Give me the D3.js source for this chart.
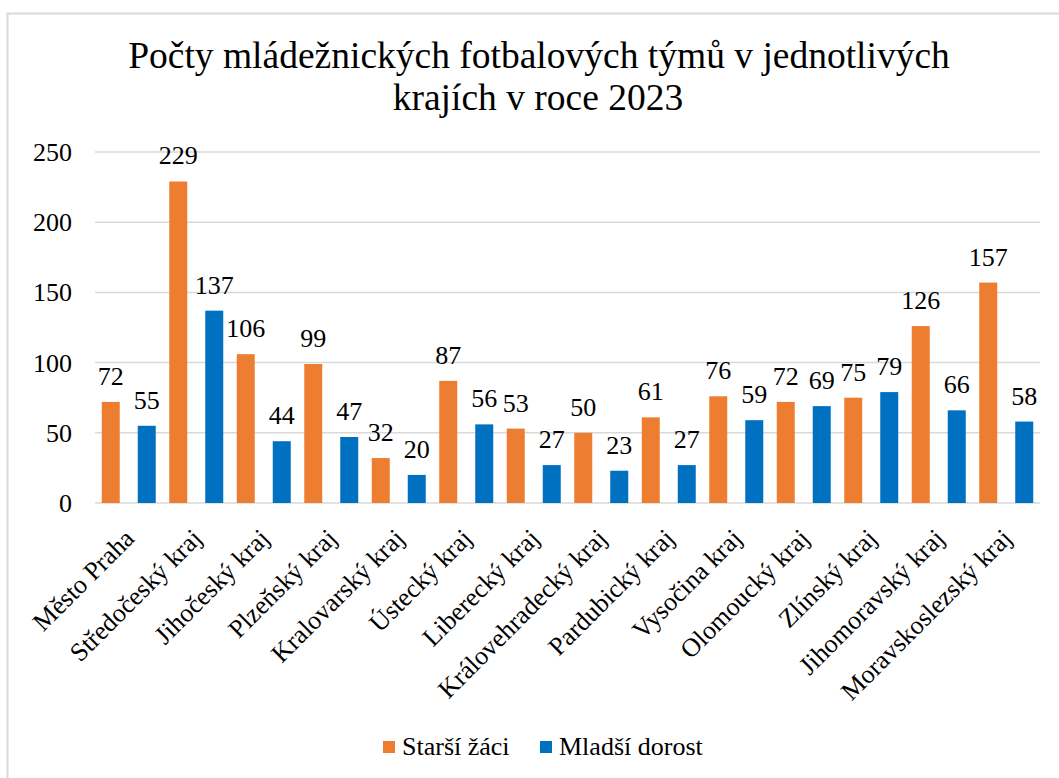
<!DOCTYPE html>
<html>
<head>
<meta charset="utf-8">
<script src="https://cdn.jsdelivr.net/npm/d3@7"></script>
<style>
  body { margin: 0; background: #fff; }
</style>
</head>
<body>
<svg id="chart" width="1059" height="778"></svg>
<script>
// data
const categories = ["Město Praha", "Středočeský kraj", "Jihočeský kraj", "Plzeňský kraj",
  "Kralovarský kraj", "Ústecký kraj", "Liberecký kraj", "Královehradecký kraj",
  "Pardubický kraj", "Vysočina kraj", "Olomoucký kraj", "Zlínský kraj",
  "Jihomoravský kraj", "Moravskoslezský kraj"];
const starsiZaci = [72, 229, 106, 99, 32, 87, 53, 50, 61, 76, 72, 75, 126, 157];
const mladsiDorost = [55, 137, 44, 47, 20, 56, 27, 23, 27, 59, 69, 79, 66, 58];
const seriesNames = ["Starší žáci", "Mladší dorost"];
const seriesColors = ["#ED7D31", "#0070C0"];
const yTicks = [0, 50, 100, 150, 200, 250];

const FONT = "Liberation Serif, Times New Roman, serif";
const svg = d3.select('#chart');

// chart area border
svg.append('rect')
  .attr('x', 7.5).attr('y', 13.5)
  .attr('width', 1100).attr('height', 800)
  .attr('fill', 'none')
  .attr('stroke', '#d9d9d9')
  .attr('stroke-width', 2);

// title
const title = svg.append('text')
  .attr('text-anchor', 'middle')
  .attr('font-size', 37.5)
  .attr('fill', '#000')
  .style('font-family', FONT);
title.append('tspan').attr('x', 539).attr('y', 68)
  .text('Počty mládežnických fotbalových týmů v jednotlivých');
title.append('tspan').attr('x', 538).attr('y', 110)
  .text('krajích v roce 2023');

const x = d3.scaleBand()
  .domain(categories)
  .range([95, 1040]);

const xSub = d3.scaleBand()
  .domain([0, 1])
  .range([0, x.bandwidth()])
  .paddingInner(0.5)
  .paddingOuter(0.1875);

const y = d3.scaleLinear()
  .domain([0, 250])
  .range([503, 152]);

// gridlines
svg.append('g')
  .selectAll('line')
  .data(yTicks)
  .enter()
  .append('line')
  .attr('x1', 95).attr('x2', 1040)
  .attr('y1', (d) => y(d)).attr('y2', (d) => y(d))
  .attr('stroke', '#d9d9d9')
  .attr('stroke-width', 1.5);

// y tick labels
svg.append('g')
  .selectAll('text')
  .data(yTicks)
  .enter()
  .append('text')
  .attr('x', 72)
  .attr('y', (d) => y(d) + 9)
  .attr('text-anchor', 'end')
  .attr('font-size', 26)
  .attr('fill', '#000')
  .style('font-family', FONT)
  .text((d) => d);

const rows = [];
categories.forEach((c, i) => {
  rows.push({ cat: c, s: 0, v: starsiZaci[i] });
  rows.push({ cat: c, s: 1, v: mladsiDorost[i] });
});

const bars = svg.append('g');
bars.selectAll('rect')
  .data(rows)
  .enter()
  .append('rect')
  .attr('x', (d) => x(d.cat) + xSub(d.s))
  .attr('width', xSub.bandwidth())
  .attr('y', (d) => y(d.v))
  .attr('height', (d) => y(0) - y(d.v))
  .attr('fill', (d) => seriesColors[d.s]);

// value labels
bars.selectAll('text')
  .data(rows)
  .enter()
  .append('text')
  .attr('x', (d) => x(d.cat) + xSub(d.s) + xSub.bandwidth() / 2)
  .attr('y', (d) => y(d.v) - 17)
  .attr('text-anchor', 'middle')
  .attr('font-size', 26)
  .attr('fill', '#000')
  .style('font-family', FONT)
  .text((d) => d.v);

// category labels
svg.append('g')
  .selectAll('text')
  .data(categories)
  .enter()
  .append('text')
  .attr('transform', (d) => 'translate(' + (x(d) + x.bandwidth() / 2 + 7) + ',540) rotate(-45)')
  .attr('text-anchor', 'end')
  .attr('font-size', 26)
  .attr('fill', '#000')
  .style('font-family', FONT)
  .text((d) => d);

// legend
const legend = svg.append('g');
const legendX = [383, 540];
seriesNames.forEach((name, i) => {
  legend.append('rect')
    .attr('x', legendX[i]).attr('y', 741)
    .attr('width', 12).attr('height', 12)
    .attr('fill', seriesColors[i]);
  legend.append('text')
    .attr('x', legendX[i] + 19).attr('y', 755)
    .attr('font-size', 26)
    .attr('fill', '#000')
    .style('font-family', FONT)
    .text(name);
});
</script>
</body>
</html>
